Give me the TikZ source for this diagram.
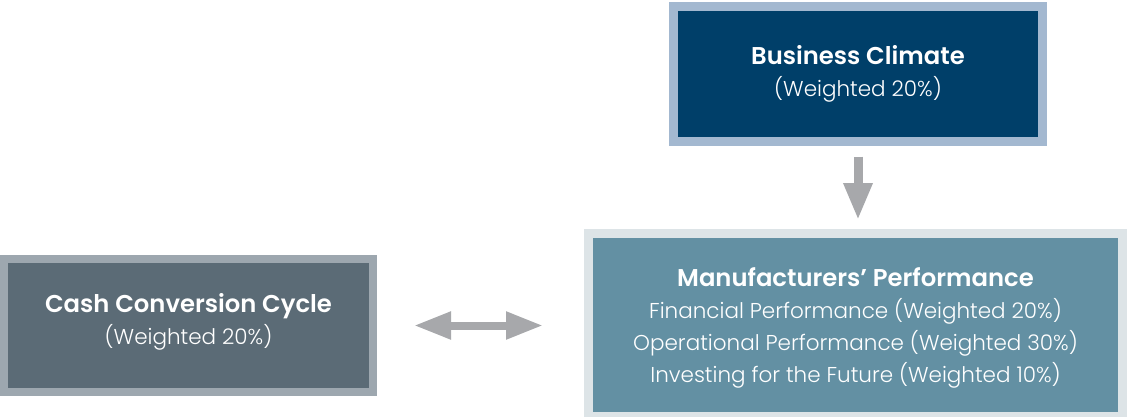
\documentclass[tikz,border=0pt]{standalone}
\usepackage{fontspec}
\setmainfont{Poppins}
\newfontfamily\lightface{Poppins Light}
\newcommand\headface{\fontsize{24.3}{32}\selectfont\bfseries}
\usetikzlibrary{arrows.meta}
\definecolor{navy}{HTML}{003F69}
\definecolor{navyrim}{HTML}{A3B8D0}
\definecolor{slate}{HTML}{5B6B76}
\definecolor{slaterim}{HTML}{9DA7AF}
\definecolor{teal}{HTML}{6390A3}
\definecolor{tealrim}{HTML}{DDE4E7}
\definecolor{arrowgray}{HTML}{A7A8AB}
\tikzset{
  box/.style={rectangle, inner sep=0pt},
  boxtext/.style={inner sep=0pt, text=white, align=center,
    font=\fontsize{21.5}{32}\selectfont\lightface},
  blockarrow/.style={draw=arrowgray, line width=9pt,
    arrows={-Triangle[width=27pt,length=37pt]}},
  twoway/.style={draw=arrowgray, line width=8pt,
    arrows={Triangle[width=26pt,length=37pt]-Triangle[width=26pt,length=37pt]}},
}
\begin{document}
\begin{tikzpicture}[x=1pt,y=-1pt]
\useasboundingbox (0,0) rectangle (1129,417);
\fill[white] (0,0) rectangle (1129,417);
% the three weighted components
\node[box, fill=navy, draw=navyrim, line width=9pt, outer sep=4.5pt,
      minimum width=369pt, minimum height=134.5pt] (bc) at (858,73.75) {};
\node[boxtext] (bctext) at (bc.center)
  {{\headface Business Climate}\\(Weighted 20\%)};
\node[box, fill=slate, draw=slaterim, line width=8pt, outer sep=4pt,
      minimum width=369pt, minimum height=133pt] (cc) at (188.5,325.5) {};
\node[boxtext, yshift=4pt] (cctext) at (cc.center)
  {{\headface Cash Conversion Cycle}\\(Weighted 20\%)};
\node[box, fill=teal, draw=tealrim, line width=9pt, outer sep=4.5pt,
      minimum width=534pt, minimum height=183pt] (mp) at (855.5,325) {};
\node[boxtext, yshift=-3pt] (mptext) at (mp.center)
  {{\headface Manufacturers’ Performance}\\Financial Performance (Weighted 20\%)\\
   Operational Performance (Weighted 30\%)\\Investing for the Future (Weighted 10\%)};
% connectors
\draw[blockarrow, shorten <=11pt, shorten >=9pt] (bc.south) -- (bc.south |- mp.north);
\draw[twoway, shorten <=37pt, shorten >=41pt] (cc.east) -- (cc.east -| mp.west);
\end{tikzpicture}
\end{document}
